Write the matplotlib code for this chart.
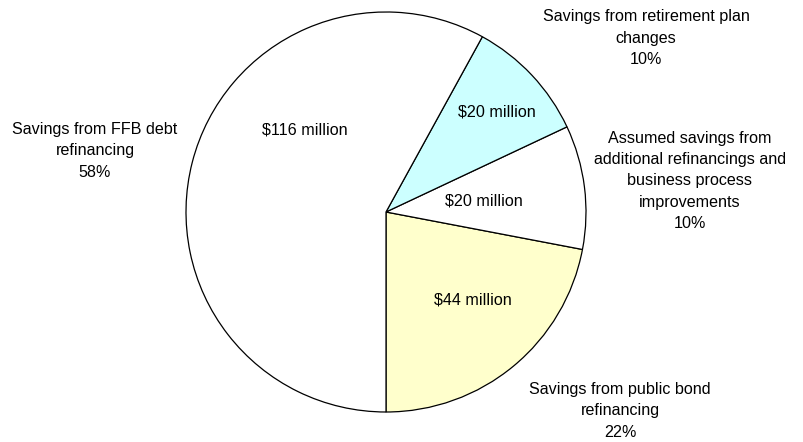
import matplotlib
matplotlib.use("Agg")
import matplotlib.pyplot as plt

# Savings breakdown (millions of dollars)
categories = [
    "Savings from public bond\nrefinancing",
    "Assumed savings from\nadditional refinancings and\nbusiness process\nimprovements",
    "Savings from retirement plan\nchanges",
    "Savings from FFB debt\nrefinancing",
]
values = [44, 20, 20, 116]
colors = ["#FFFFCC", "#FFFFFF", "#CCFFFF", "#FFFFFF"]

W, H = 804, 442
plt.rcParams["font.family"] = ["Liberation Sans", "DejaVu Sans"]

fig = plt.figure(figsize=(W / 100, H / 100), dpi=100)
ax = fig.add_axes([0, 0, 1, 1])
ax.set_xlim(0, W)
ax.set_ylim(0, H)
ax.set_aspect("equal")
ax.axis("off")

cx, cy, r = 386, H - 212, 200
wedges, _ = ax.pie(values, colors=colors, startangle=-90, counterclock=True,
                   center=(cx, cy), radius=r,
                   wedgeprops=dict(edgecolor="black", linewidth=0.9))
ax.set_xlim(0, W)
ax.set_ylim(0, H)

total = sum(values)
fs = 11.6

# value labels inside the slices
inner_pos = [(473, 300), (484, 201), (497, 112), (305, 130)]
for v, (x, y) in zip(values, inner_pos):
    ax.text(x, H - y, f"${v} million", ha="center", va="center", fontsize=fs)

# category labels outside the pie
outer_pos = [(620, 411), (690, 181), (646, 38), (95, 151)]
for name, v, (x, y) in zip(categories, values, outer_pos):
    pct = round(100 * v / total)
    ax.text(x, H - y, f"{name}\n{pct}%", ha="center", va="center",
            fontsize=fs, linespacing=1.54)

fig.savefig("out.png", dpi=100)
